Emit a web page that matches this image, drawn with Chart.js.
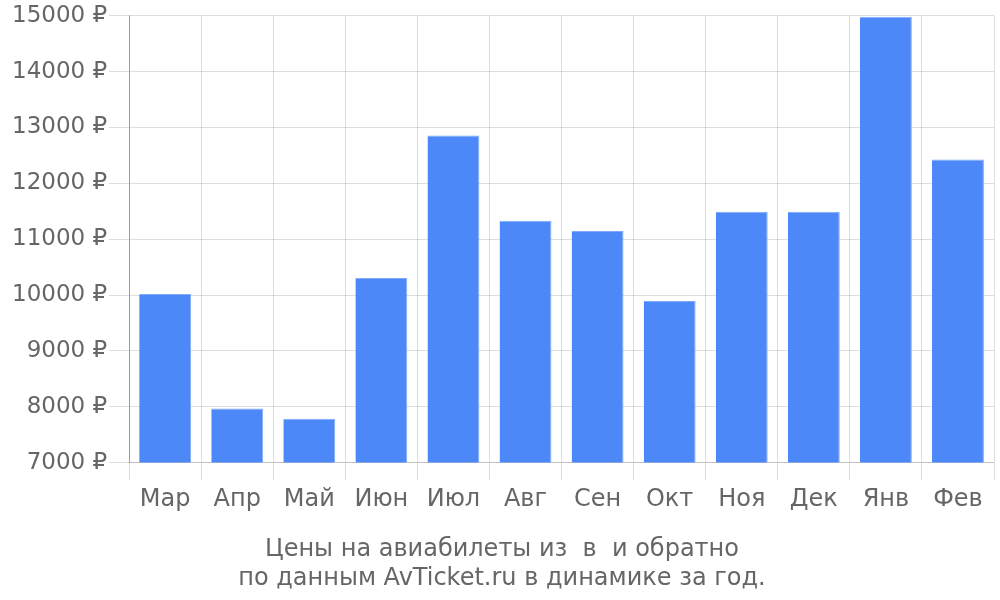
<!DOCTYPE html>
<html>
<head>
<meta charset="utf-8">
<script src="https://cdn.jsdelivr.net/npm/chart.js@4"></script>
<style>
  html, body { margin: 0; padding: 0; background: #fff; }
  #wrap { width: 1000px; height: 600px; }
</style>
</head>
<body>
<div id="wrap"><canvas id="c"></canvas></div>
<script>
// months and average ticket price, rub
const months = ["Мар", "Апр", "Май", "Июн", "Июл", "Авг", "Сен", "Окт", "Ноя", "Дек", "Янв", "Фев"];
const prices = [10018, 7968, 7786, 10304, 12857, 11330, 11148, 9893, 11490, 11490, 14982, 12425];
const titleLines = ["Цены на авиабилеты из  в  и обратно", "по данным AvTicket.ru в динамике за год."];

Chart.defaults.font.family = "'DejaVu Sans', sans-serif";
Chart.defaults.color = "#666";

new Chart(document.getElementById("c").getContext("2d"), {
    type: "bar",
    data: {
        labels: months,
        datasets: [{
            data: prices,
            backgroundColor: "#4d88f9",
            borderColor: "#7fa9fa",
            borderWidth: { top: 1, right: 1, left: 0, bottom: 0 },
        }],
    },
    options: {
        responsive: true,
        maintainAspectRatio: false,
        animation: false,
        layout: { padding: { left: 10, right: 6, top: 2 } },
        plugins: {
            legend: { display: false },
            tooltip: { enabled: false },
            title: {
                display: true,
                position: "bottom",
                text: titleLines,
                font: { size: 24, weight: "normal" },
                color: "#666",
                padding: { top: 16, bottom: 7 },
            },
        },
        scales: {
            x: {
                grid: { color: "rgba(0,0,0,0.13)", tickLength: 18 },
                border: { color: "rgba(0,0,0,0.13)" },
                ticks: { font: { size: 24 }, padding: 5, maxRotation: 0 },
            },
            y: {
                min: 7000,
                max: 15000,
                grid: { color: "rgba(0,0,0,0.13)", tickLength: 20 },
                border: { color: "rgba(0,0,0,0.3)" },
                ticks: {
                    stepSize: 1000,
                    font: { size: 23 },
                    padding: 2,
                    callback: (v) => v + " ₽",
                },
            },
        },
    },
});
</script>
</body>
</html>
